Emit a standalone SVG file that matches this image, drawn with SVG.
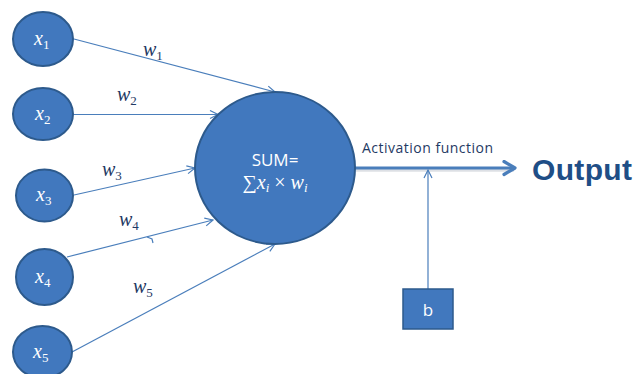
<svg xmlns="http://www.w3.org/2000/svg" width="635" height="374" viewBox="0 0 635 374">
<defs>
<style>
.node{fill:#4178BE;stroke:#2D5A8C;stroke-width:2}
.lbl{font-family:"Liberation Serif",serif;font-style:italic;fill:#fff;font-size:20px}
.w{font-family:"Liberation Serif",serif;font-style:italic;fill:#1F3A64;font-size:20px}
.sub{font-size:13px;font-style:normal}
.conn{fill:none;stroke:#4A7EBB;stroke-width:1.2}
</style>
<marker id="arr" markerUnits="userSpaceOnUse" markerWidth="12" markerHeight="12" refX="9" refY="5" orient="auto">
<path d="M1,1 L9,5 L1,9" fill="none" stroke="#4A7EBB" stroke-width="1.2"/>
</marker>
<marker id="big" markerUnits="userSpaceOnUse" markerWidth="20" markerHeight="20" refX="13" refY="8" orient="auto">
<path d="M2,1.5 L13,8 L2,14.5" fill="none" stroke="#4A7EBB" stroke-width="3.2" stroke-linecap="round" stroke-linejoin="round"/>
</marker>
</defs>
<rect width="635" height="374" fill="#fff"/>
<g id="connectors">
<line class="conn" x1="74" y1="39" x2="275" y2="92" marker-end="url(#arr)"/>
<line class="conn" x1="73" y1="114.5" x2="218" y2="114.5" marker-end="url(#arr)"/>
<line class="conn" x1="74" y1="195" x2="195" y2="168" marker-end="url(#arr)"/>
<line class="conn" x1="67" y1="257" x2="213" y2="220" marker-end="url(#arr)"/>
<path class="conn" d="M147,237 L152,239 L153,243"/>
<line class="conn" x1="72" y1="352" x2="275" y2="244" marker-end="url(#arr)"/>
<line x1="356" y1="170" x2="514" y2="170" stroke="#c8cdd4" stroke-width="3.5" opacity="0.6"/>
<line x1="355" y1="168" x2="515" y2="168" stroke="#4A7EBB" stroke-width="3.2" marker-end="url(#big)"/>
<line class="conn" x1="428" y1="289" x2="428" y2="170" marker-end="url(#arr)"/>
</g>
<g id="x1"><ellipse class="node" cx="43" cy="39" rx="30" ry="27"/><text class="lbl" x="34" y="45">x<tspan class="sub" dy="4">1</tspan></text></g>
<g id="x2"><ellipse class="node" cx="43" cy="114" rx="30" ry="26"/><text class="lbl" x="35" y="120">x<tspan class="sub" dy="4">2</tspan></text></g>
<g id="x3"><ellipse class="node" cx="44.5" cy="195.5" rx="28.5" ry="26"/><text class="lbl" x="36" y="201">x<tspan class="sub" dy="4">3</tspan></text></g>
<g id="x4"><ellipse class="node" cx="44.5" cy="277" rx="28.5" ry="28"/><text class="lbl" x="35" y="283">x<tspan class="sub" dy="4">4</tspan></text></g>
<g id="x5"><ellipse class="node" cx="42.5" cy="352" rx="29.5" ry="26"/><text class="lbl" x="33" y="358">x<tspan class="sub" dy="4">5</tspan></text></g>
<g id="sum"><ellipse class="node" cx="275" cy="168" rx="80" ry="76"/>
<text x="275" y="166" text-anchor="middle" font-family="'Open Sans','Liberation Sans',sans-serif" font-size="17" fill="#fff">SUM=</text>
<text x="275" y="189" text-anchor="middle" font-family="'Liberation Serif',serif" font-size="20" fill="#fff">∑<tspan font-style="italic">x</tspan><tspan font-style="italic" font-size="13" dy="3">i</tspan><tspan dy="-3"> × </tspan><tspan font-style="italic">w</tspan><tspan font-style="italic" font-size="13" dy="3">i</tspan></text>
</g>
<g id="weights">
<text class="w" x="143" y="56">w<tspan class="sub" dy="4">1</tspan></text>
<text class="w" x="117" y="101">w<tspan class="sub" dy="4">2</tspan></text>
<text class="w" x="102" y="176">w<tspan class="sub" dy="4">3</tspan></text>
<text class="w" x="119" y="226">w<tspan class="sub" dy="4">4</tspan></text>
<text class="w" x="133" y="293">w<tspan class="sub" dy="4">5</tspan></text>
</g>
<text x="362" y="153" font-family="'Open Sans','Liberation Sans',sans-serif" font-size="14" fill="#1F3A64" textLength="131">Activation function</text>
<g id="output"><text x="532" y="180" font-family="'Liberation Sans',sans-serif" font-weight="bold" font-size="30" fill="#1F4E86" textLength="100">Output</text></g>
<g id="b"><rect x="403" y="289" width="50" height="40" fill="#4178BE" stroke="#2D5A8C" stroke-width="1.5"/>
<text x="428" y="316" text-anchor="middle" font-family="'Open Sans','Liberation Sans',sans-serif" font-size="17" fill="#fff">b</text></g>
</svg>
